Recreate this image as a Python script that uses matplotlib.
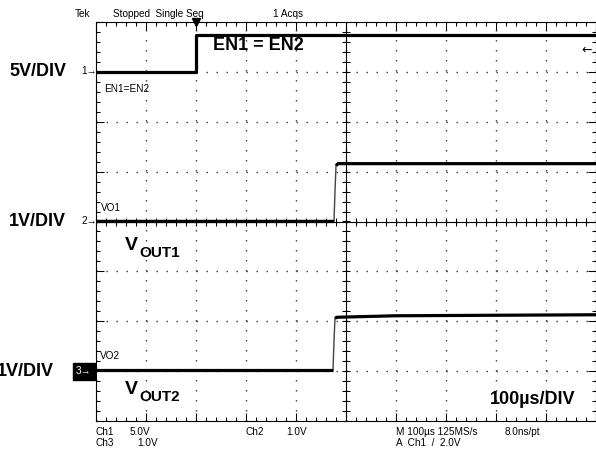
import matplotlib.pyplot as plt
import numpy as np
from matplotlib.ticker import MultipleLocator

plt.rcParams['font.family'] = ['Liberation Sans', 'DejaVu Sans']

# time in us, 100us/div, 10 divisions
t_en = [0, 200, 200, 1000]
v_en = [0.0, 0.0, 3.7, 3.7]          # Ch1, 5V/div
t_vo1 = [0, 476, 478, 480, 484, 1000]
v_vo1 = [0.02, 0.02, 0.6, 1.12, 1.16, 1.16]   # Ch2, 1V/div
t_vo2 = [0, 474, 476, 478, 482, 600, 1000]
v_vo2 = [0.02, 0.02, 0.6, 1.06, 1.08, 1.11, 1.13]  # Ch3, 1V/div

# channel ground position (div) and volts/div
ch_offset = {1: 3.0, 2: 0.0, 3: -3.0}
ch_scale = {1: 5.0, 2: 1.0, 3: 1.0}

W, H = 596, 451
fig = plt.figure(figsize=(W / 100, H / 100), dpi=100)
ax = fig.add_axes([96 / W, 30 / H, 500 / W, 399 / H])
ax.set_xlim(0, 1000)
ax.set_ylim(-4, 4)

ax.xaxis.set_major_locator(MultipleLocator(100))
ax.xaxis.set_minor_locator(MultipleLocator(20))
ax.yaxis.set_major_locator(MultipleLocator(1))
ax.yaxis.set_minor_locator(MultipleLocator(0.2))
ax.tick_params(which='both', direction='in', top=True, right=True,
               labelbottom=False, labelleft=False, color='black', width=0.75)
ax.tick_params(which='major', length=6)
ax.tick_params(which='minor', length=3)
ax.grid(which='major', color='#333333', linestyle=(0, (1, 6.2)), linewidth=1.0)
for s in ax.spines.values():
    s.set_linewidth(0.8)

# center graticule with ticks
ax.axvline(500, color='black', lw=0.8)
ax.axhline(0, color='black', lw=0.8)
xt = np.arange(0, 1001, 20)
yt = np.arange(-4, 4.01, 0.2)
ax.plot(xt, np.zeros_like(xt), ls='none', marker='|', ms=6, mew=0.75, color='black')
ax.plot(np.full_like(yt, 500), yt, ls='none', marker='_', ms=6, mew=0.75, color='black')


def to_div(ch, v):
    return ch_offset[ch] + np.array(v) / ch_scale[ch]


def trace(ch, t, v, lo, hi):
    y = to_div(ch, v)
    t = np.array(t)
    ax.plot(t, y, color='#444444', lw=1.0)
    ax.plot(t[:lo + 1], y[:lo + 1], color='black', lw=2.3, solid_capstyle='butt')
    ax.plot(t[hi:], y[hi:], color='black', lw=2.3, solid_capstyle='butt')


y_en = to_div(1, v_en)
ax.plot(t_en, y_en, color='black', lw=2.3)
trace(2, t_vo1, v_vo1, 1, 3)
trace(3, t_vo2, v_vo2, 1, 3)

# trigger position marker
ax.plot([200], [4], marker='v', ms=6, color='black', clip_on=False)


def px(x, y):
    return x / W, 1 - y / H


small = dict(fontsize=7.2, va='center')
big = dict(fontsize=13, fontweight='bold', va='center')
sub = dict(fontsize=11, fontweight='bold', va='center')

fig.text(*px(75, 14), 'Tek', **small)
fig.text(*px(113, 14), 'Stopped  Single Seq', **small)
fig.text(*px(273, 14), '1 Acqs', **small)

fig.text(*px(66, 72), '5V/DIV', ha='right', **big)
fig.text(*px(66, 221), '1V/DIV', ha='right', **big)
fig.text(*px(54, 372), '1V/DIV', ha='right', **big)

fig.text(*px(81, 71), '1\u2192', **small)
fig.text(*px(81, 221), '2\u2192', **small)
fig.text(*px(76, 371.5), '3\u2192', color='white', fontsize=7.2, va='center',
         bbox=dict(boxstyle='square,pad=0.35', fc='black', ec='black'))

fig.text(*px(104, 89), 'EN1=EN2', **small)
fig.text(*px(101, 208), 'VO1', **small)
fig.text(*px(100, 356), 'VO2', **small)
fig.text(*px(581, 50), '\u2190', fontsize=9, va='center', family='DejaVu Sans')

fig.text(*px(213, 46), 'EN1 = EN2', **big)
fig.text(*px(125, 245), 'V', fontsize=14, fontweight='bold', va='center')
fig.text(*px(139, 253), 'OUT1', **sub)
fig.text(*px(125, 390), 'V', fontsize=14, fontweight='bold', va='center')
fig.text(*px(139, 397), 'OUT2', **sub)
fig.text(*px(490, 399), '100\u00b5s/DIV', **big)

fig.text(*px(96, 432), 'Ch1', **small)
fig.text(*px(130, 432), '5.0V', **small)
fig.text(*px(96, 443), 'Ch3', **small)
fig.text(*px(137, 443), '1.0V', **small)
fig.text(*px(245, 432), 'Ch2', **small)
fig.text(*px(286, 432), '1.0V', **small)
fig.text(*px(396, 432), 'M 100\u00b5s 125MS/s', **small)
fig.text(*px(505, 432), '8.0ns/pt', **small)
fig.text(*px(396, 443), 'A  Ch1  /  2.0V', **small)

fig.savefig('out.png', dpi=100)
